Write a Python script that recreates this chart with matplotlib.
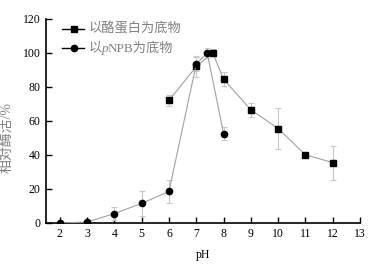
import matplotlib.pyplot as plt
from matplotlib.lines import Line2D
from matplotlib.offsetbox import (AnchoredOffsetbox, DrawingArea, HPacker,
                                  TextArea, VPacker)

plt.rcParams['font.family'] = ['Liberation Serif', 'Noto Sans CJK SC']

# casein substrate (squares)
ph_casein = [6, 7, 7.6, 8, 9, 10, 11, 12]
act_casein = [72, 92, 100, 84.5, 66.5, 55.5, 40, 35.5]
err_casein = [3, 6, 2, 4, 4.3, 12, 1, 10]

# pNPB substrate (circles)
ph_pnpb = [2, 3, 4, 5, 6, 7, 7.4, 8]
act_pnpb = [0, 0.5, 5.5, 11.5, 18.5, 93.5, 100, 52.5]
err_pnpb = [1, 1.5, 4, 7.5, 6.5, 4, 3, 4]

xticks = list(range(2, 14))
yticks = list(range(0, 121, 20))

fig = plt.figure(figsize=(3.72, 2.66), dpi=100)
ax = fig.add_axes([0.124, 0.162, 0.844, 0.767])

line_c = '#a0a0a0'
err_c = '#c8c8c8'

ax.errorbar(ph_casein, act_casein, yerr=err_casein, color=line_c, lw=0.8,
            marker='s', ms=4.5, mfc='black', mec='black',
            ecolor=err_c, elinewidth=0.8, capsize=2, capthick=0.8, zorder=3)
ax.errorbar(ph_pnpb, act_pnpb, yerr=err_pnpb, color=line_c, lw=0.8,
            marker='o', ms=4.5, mfc='black', mec='black',
            ecolor=err_c, elinewidth=0.8, capsize=2, capthick=0.8, zorder=3)

ax.set_xlim(1.5, 13)
ax.set_ylim(0, 120)
ax.set_xticks(xticks)
ax.set_yticks(yticks)
ax.tick_params(direction='in', length=4, width=1, labelsize=8.5,
               colors='black', pad=4)
for s in ['top', 'right']:
    ax.spines[s].set_visible(False)
for s in ['left', 'bottom']:
    ax.spines[s].set_linewidth(1.2)

ax.set_xlabel('pH', fontsize=8.5, labelpad=6)
ax.set_ylabel('相对酶活/%', fontsize=10, color='#808080')
ax.yaxis.set_label_coords(-0.105, 0.42)


# legend built by hand so that the "p" can be italic next to CJK text
def handle(marker, ms):
    da = DrawingArea(16, 10, 0, 0)
    da.add_artist(Line2D([0, 16], [5, 5], color='black', lw=1))
    da.add_artist(Line2D([8.5], [5], marker=marker, ms=ms, color='black'))
    return da


tp = dict(color='#808080', fontsize=9.5)
row1 = HPacker(children=[handle('s', 4.5), TextArea('以酪蛋白为底物', textprops=tp)],
               align='center', pad=0, sep=3)
row2 = HPacker(children=[handle('o', 4.5),
                         HPacker(children=[
                             TextArea('以', textprops=tp),
                             TextArea('p', textprops=dict(tp, style='italic')),
                             TextArea('NPB为底物', textprops=tp)],
                             align='baseline', pad=0, sep=0)],
               align='center', pad=0, sep=3)
box = VPacker(children=[row1, row2], align='left', pad=0, sep=4)
anchored = AnchoredOffsetbox(loc='upper left', child=box, frameon=False,
                             bbox_to_anchor=(0.05, 0.985),
                             bbox_transform=ax.transAxes, borderpad=0, pad=0)
ax.add_artist(anchored)

fig.savefig('out.png', dpi=100)
